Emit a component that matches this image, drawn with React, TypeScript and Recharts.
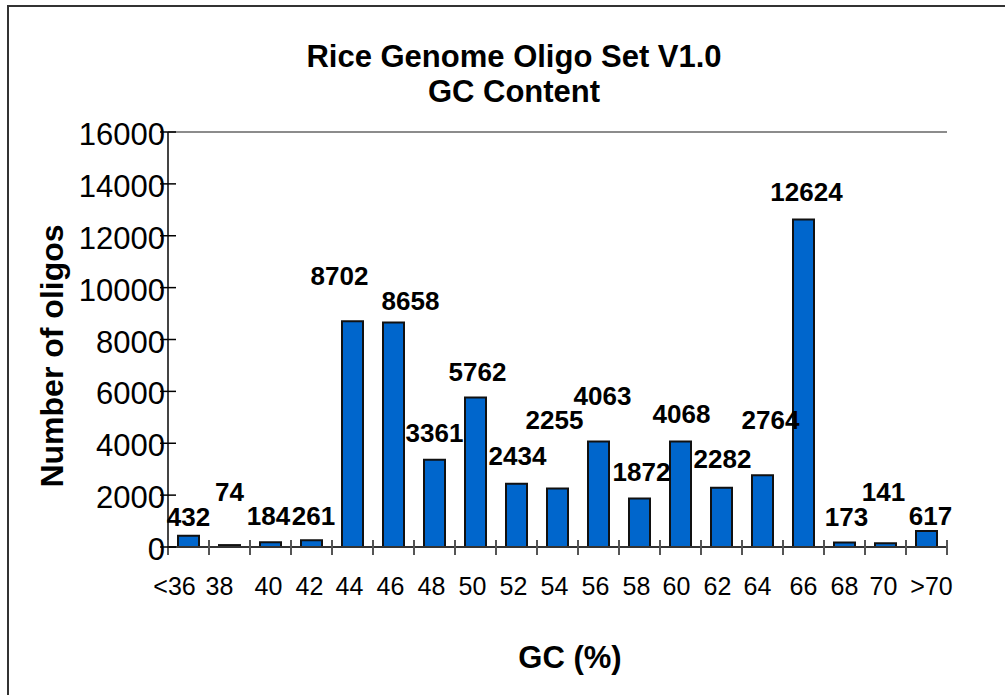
import React from 'react';
import { BarChart, Bar, XAxis, YAxis, LabelList, ReferenceLine } from 'recharts';

const categories = ['<36', '38', '40', '42', '44', '46', '48', '50', '52', '54', '56', '58', '60', '62', '64', '66', '68', '70', '>70'];
const oligoCounts = [432, 74, 184, 261, 8702, 8658, 3361, 5762, 2434, 2255, 4063, 1872, 4068, 2282, 2764, 12624, 173, 141, 617];
const yTicks = [0, 2000, 4000, 6000, 8000, 10000, 12000, 14000, 16000];

// label placement (style): lift above bar top and horizontal nudge, as in the original
const labelLift = [19, 53, 26, 24, 45, 21, 27, 26, 28, 69, 46, 26, 27, 29, 55, 28, 26, 51, 15];
const labelNudge = [0, 0, -2, 2, -13, 17, 0, 2, 1, -3, 4, 2, 1, 1, 8, 3, 2, -2, 4];
// category tick label horizontal nudge (style)
const tickNudge = [-14, -10, -2, -2, -3, -3, -3, -3, -3, -3, -3, -3, -4, -4, -5, 0, 0, -2, 5];

const data = categories.map((c, i) => ({ gc: c, count: oligoCounts[i] }));

const FONT = "'Liberation Sans', Arial, Helvetica, sans-serif";
const W = 998;
const H = 690;
const M = { top: 127, right: 58, left: 0, bottom: 88 };
const Y_AXIS_W = 161;
const X_AXIS_H = 60;
const PLOT_W = W - M.left - Y_AXIS_W - M.right;
const BAND = PLOT_W / categories.length;

const XTick = (props: any) => {
  const { x, y, payload, index } = props;
  const half = BAND / 2;
  const isLast = index === categories.length - 1;
  return (
    <g>
      <line x1={x - half} x2={x - half} y1={y - 7} y2={y + 8} stroke="#555" strokeWidth={2} />
      {isLast && <line x1={x + half} x2={x + half} y1={y - 7} y2={y + 8} stroke="#555" strokeWidth={2} />}
      <text x={x + (tickNudge[index] ?? 0)} y={y + 48} textAnchor="middle" fontFamily={FONT} fontSize={25} fill="#000">
        {payload.value}
      </text>
    </g>
  );
};

const YTick = (props: any) => {
  const { x, y, payload } = props;
  return (
    <g>
      <line x1={x - 8} x2={x + 8} y1={y} y2={y} stroke="#000" strokeWidth={1.5} />
      <text x={x - 3} y={y + 13} textAnchor="end" fontFamily={FONT} fontSize={31} fill="#000">
        {payload.value}
      </text>
    </g>
  );
};

const BarLabel = (props: any) => {
  const { x, y, width, value, index } = props;
  return (
    <text
      x={Number(x) + Number(width) / 2 + labelNudge[index]}
      y={Number(y) - labelLift[index] + 9}
      textAnchor="middle"
      fontFamily={FONT}
      fontSize={26}
      fontWeight="bold"
      fill="#000"
    >
      {value}
    </text>
  );
};

export default function App() {
  return (
    <div style={{ position: 'fixed', left: 7, top: 5, width: W, height: H, background: '#fff' }}>
      <div style={{ position: 'absolute', left: 0, top: 0, width: W, height: H }}>
        <BarChart width={W} height={H} data={data} margin={M} barSize={21}>
          <XAxis
            dataKey="gc"
            interval={0}
            height={X_AXIS_H}
            tickSize={0}
            tickMargin={0}
            tickLine={false}
            axisLine={{ stroke: '#333', strokeWidth: 2 }}
            tick={<XTick />}
          />
          <YAxis
            domain={[0, 16000]}
            ticks={yTicks}
            width={Y_AXIS_W}
            tickSize={0}
            tickMargin={0}
            tickLine={false}
            axisLine={{ stroke: '#444', strokeWidth: 2 }}
            tick={<YTick />}
            allowDataOverflow
          />
          <YAxis
            yAxisId="frame"
            orientation="right"
            width={0}
            domain={[0, 16000]}
            tick={false}
            tickLine={false}
            axisLine={{ stroke: '#8c8c8c', strokeWidth: 2 }}
          />
          <ReferenceLine y={16000} stroke="#8c8c8c" strokeWidth={2} />
          <Bar dataKey="count" fill="#0066CC" stroke="#111" strokeWidth={2} isAnimationActive={false}>
            <LabelList dataKey="count" content={<BarLabel />} />
          </Bar>
        </BarChart>
      </div>
      <svg width={W} height={H} style={{ position: 'absolute', left: 0, top: 0, pointerEvents: 'none' }}>
        <text x={507} y={62} textAnchor="middle" fontFamily={FONT} fontSize={31} fontWeight="bold" fill="#000">
          Rice Genome Oligo Set V1.0
        </text>
        <text x={507} y={97} textAnchor="middle" fontFamily={FONT} fontSize={31} fontWeight="bold" fill="#000">
          GC Content
        </text>
        <text
          x={56}
          y={351}
          transform="rotate(-90, 56, 351)"
          textAnchor="middle"
          fontFamily={FONT}
          fontSize={32}
          fontWeight="bold"
          fill="#000"
        >
          Number of oligos
        </text>
        <text x={563} y={663} textAnchor="middle" fontFamily={FONT} fontSize={31} fontWeight="bold" fill="#000">
          GC (%)
        </text>
      </svg>
      <div style={{ position: 'absolute', left: 0, top: 0, width: W, height: H, borderLeft: '2px solid #333', borderTop: '2px solid #333', boxSizing: 'border-box', pointerEvents: 'none' }} />
    </div>
  );
}
